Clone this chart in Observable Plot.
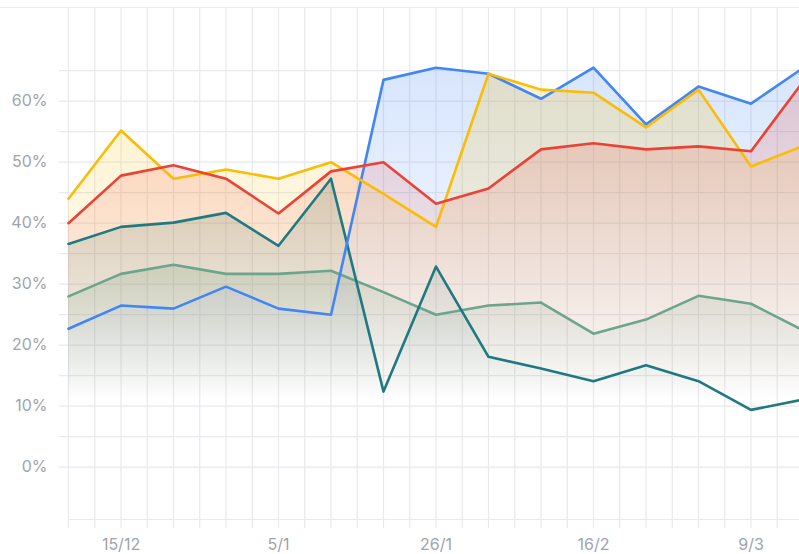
<!DOCTYPE html>
<html><head><meta charset="utf-8">
<script src="https://cdn.jsdelivr.net/npm/d3@7"></script>
<script src="https://cdn.jsdelivr.net/npm/@observablehq/plot@0.6"></script>
<style>
html,body{margin:0;padding:0;background:#fff;overflow:hidden;}
#wrap{position:relative;width:799px;height:554px;overflow:hidden;}
#topline{position:absolute;left:0;top:7px;width:799px;height:1px;background:#ebebef;}
</style></head><body><div id="wrap"><div id="topline"></div></div>
<script>
const dates = ["2024-12-08","2024-12-15","2024-12-22","2024-12-29","2025-01-05","2025-01-12","2025-01-19","2025-01-26","2025-02-02","2025-02-09","2025-02-16","2025-02-23","2025-03-02","2025-03-09","2025-03-16"];
const blueValues   = [22.7,26.5,26.0,29.6,26.0,25.0,63.5,65.5,64.5,60.4,65.5,56.2,62.4,59.6,65.5];
const redValues    = [40.0,47.8,49.5,47.3,41.6,48.5,50.0,43.2,45.7,52.1,53.1,52.1,52.6,51.8,63.3];
const yellowValues = [44.0,55.2,47.3,48.8,47.3,50.0,44.8,39.4,64.5,61.9,61.4,55.7,61.9,49.3,52.7];
const tealValues   = [36.6,39.4,40.1,41.7,36.3,47.3,12.4,32.9,18.1,16.2,14.1,16.7,14.1,9.4,11.1];
const sageValues   = [28.0,31.7,33.2,31.7,31.7,32.2,28.7,25.0,26.5,27.0,21.9,24.2,28.1,26.8,22.4];
const xTickDates  = ["2024-12-15","2025-01-05","2025-01-26","2025-02-16","2025-03-09"];
const xTickLabels = ["15/12","5/1","26/1","16/2","9/3"];
const yTickValues = [0,10,20,30,40,50,60];
const yGridValues = [0,5,10,15,20,25,30,35,40,45,50,55,60,65];

const parse = d3.utcParse("%Y-%m-%d");
const D = dates.map(parse);
const seriesDefs = [
  {key:"sage",   values: sageValues,   color:"#6ba68c"},
  {key:"teal",   values: tealValues,   color:"#1f7a80"},
  {key:"blue",   values: blueValues,   color:"#4285f4"},
  {key:"yellow", values: yellowValues, color:"#fbbc04"},
  {key:"red",    values: redValues,    color:"#ea4335"}
];
const rows = s => s.values.map((v,i)=>({date:D[i], value:v/100}));
const gridDates = D.flatMap((d,i)=> i < D.length-1 ? [d, new Date((+d + +D[i+1])/2)] : [d]);
const gridColor = "#e9e9ee";
const yDomain = [-0.0857, 0.752];

const marks = [
  Plot.ruleY(yGridValues.map(v=>v/100), {y:d=>d, stroke:gridColor, strokeWidth:1.2, insetLeft:-9}),
  Plot.ruleX(gridDates, {x:d=>d, stroke:gridColor, strokeWidth:1.2, insetBottom:-9}),
  Plot.ruleY([yDomain[0]], {y:d=>d, stroke:gridColor, strokeWidth:1.2}),
  ...seriesDefs.map(s => Plot.areaY(rows(s), {x:"date", y:"value", fill:`url(#grad-${s.key})`})),
  ...seriesDefs.map(s => Plot.lineY(rows(s), {x:"date", y:"value", stroke:s.color, strokeWidth:2.6, strokeLinejoin:"round", strokeLinecap:"round"})),
  Plot.text(yTickValues, {y:d=>d/100, text:d=>`${d}%`, frameAnchor:"left", dx:-21, textAnchor:"end", lineAnchor:"middle", fill:"#9fa3ab", fontSize:16}),
  Plot.text(xTickDates.map(parse), {x:d=>d, text:(d,i)=>xTickLabels[i], frameAnchor:"bottom", dy:25, lineAnchor:"middle", fill:"#9fa3ab", fontSize:16})
];

const plot = Plot.plot({
  width: 799, height: 554,
  marginTop: 8, marginBottom: 35, marginLeft: 68, marginRight: 0,
  style: {fontFamily: "Inter, 'Noto Sans', sans-serif", background: "transparent", overflow: "hidden"},
  x: {type:"utc", domain:[D[0], D[D.length-1]], range:[68, 803], axis:null},
  y: {domain: yDomain, axis:null},
  marks
});

const ys = plot.scale("y");
const ns = "http://www.w3.org/2000/svg";
const defs = document.createElementNS(ns, "defs");
for (const s of seriesDefs) {
  const g = document.createElementNS(ns, "linearGradient");
  g.setAttribute("id", `grad-${s.key}`);
  g.setAttribute("gradientUnits", "userSpaceOnUse");
  g.setAttribute("x1", 0); g.setAttribute("x2", 0);
  g.setAttribute("y1", ys.apply(d3.max(s.values)/100));
  g.setAttribute("y2", ys.apply(0.11));
  [[0, 0.21], [1, 0]].forEach(([o, a]) => {
    const st = document.createElementNS(ns, "stop");
    st.setAttribute("offset", o);
    st.setAttribute("stop-color", s.color);
    st.setAttribute("stop-opacity", a);
    g.appendChild(st);
  });
  defs.appendChild(g);
}
plot.insertBefore(defs, plot.firstChild);
document.getElementById("wrap").appendChild(plot);
</script></body></html>
